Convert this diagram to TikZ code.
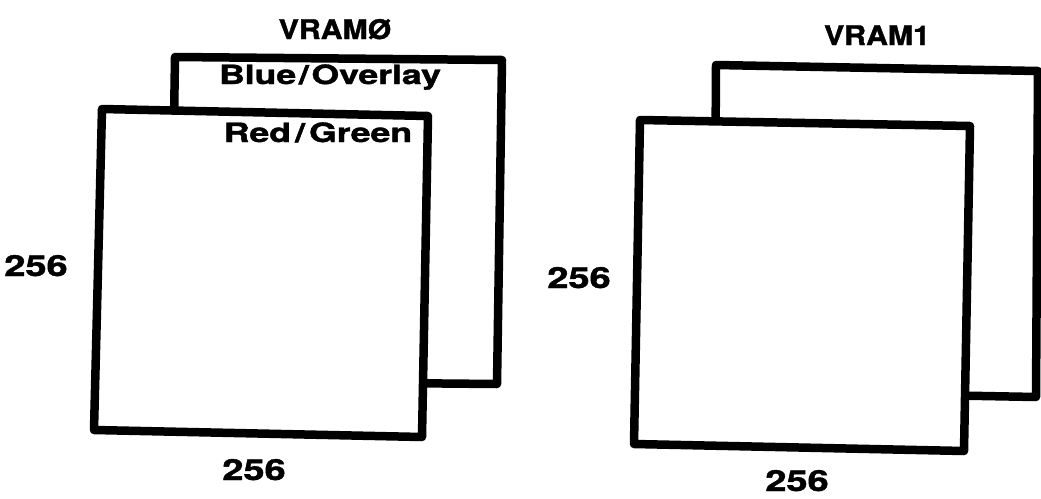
\documentclass[tikz,border=0pt]{standalone}
\usepackage{fontspec}
\newfontfamily\hvfont[BoldFeatures={FakeBold=1.3}]{TeX Gyre Heros}
\begin{document}
\begin{tikzpicture}[x=1pt,y=-1pt,
  plane/.style={draw=black,fill=white,line width=8.5pt,line join=round},
  lbl/.style={font=\hvfont\bfseries\fontsize{27}{30}\selectfont,anchor=base,inner sep=0pt,xscale=1.12},
  biglbl/.style={lbl,font=\hvfont\bfseries\fontsize{26.5}{30}\selectfont,xscale=1.2},
  numlbl/.style={lbl,font=\hvfont\bfseries\fontsize{29}{32}\selectfont,xscale=1.17}]
\useasboundingbox[fill=white] (0,0) rectangle (1041,498);
% left group, back plane
\coordinate (lbTL) at (175,57);
\coordinate (lbTR) at (502,60);
\coordinate (lbBR) at (497,384);
\coordinate (lbBL) at (170,381);
\draw[plane] (lbTL) -- (lbTR) -- (lbBR) -- (lbBL) -- cycle;
% left group, front plane
\coordinate (lfTL) at (102,109);
\coordinate (lfTR) at (428,116);
\coordinate (lfBR) at (422,437);
\coordinate (lfBL) at (94,430);
\draw[plane] (lfTL) -- (lfTR) -- (lfBR) -- (lfBL) -- cycle;
% right group, back plane
\coordinate (rbTL) at (716,65);
\coordinate (rbTR) at (1038,71);
\coordinate (rbBR) at (1036,397);
\coordinate (rbBL) at (714,391);
\draw[plane] (rbTL) -- (rbTR) -- (rbBR) -- (rbBL) -- cycle;
% right group, front plane
\coordinate (rfTL) at (640,120);
\coordinate (rfTR) at (970,126);
\coordinate (rfBR) at (964,451);
\coordinate (rfBL) at (634,444);
\draw[plane] (rfTL) -- (rfTR) -- (rfBR) -- (rfBL) -- cycle;
% labels
\node[lbl] (t0) at (335,39) {VRAMØ};
\node[lbl] (t1) at (877,45) {VRAM1};
\node[biglbl] (bo) at (330,84) {Blue\kern2pt/\kern2pt Overlay};
\node[biglbl] (rg) at (318,142) {Red\kern3pt/\kern3pt Green};
\node[numlbl] (lh) at (36,276) {256};
\node[numlbl] (lw) at (254,480) {256};
\node[numlbl] (rh) at (579,288) {256};
\node[numlbl] (rw) at (797,491) {256};
\end{tikzpicture}
\end{document}
